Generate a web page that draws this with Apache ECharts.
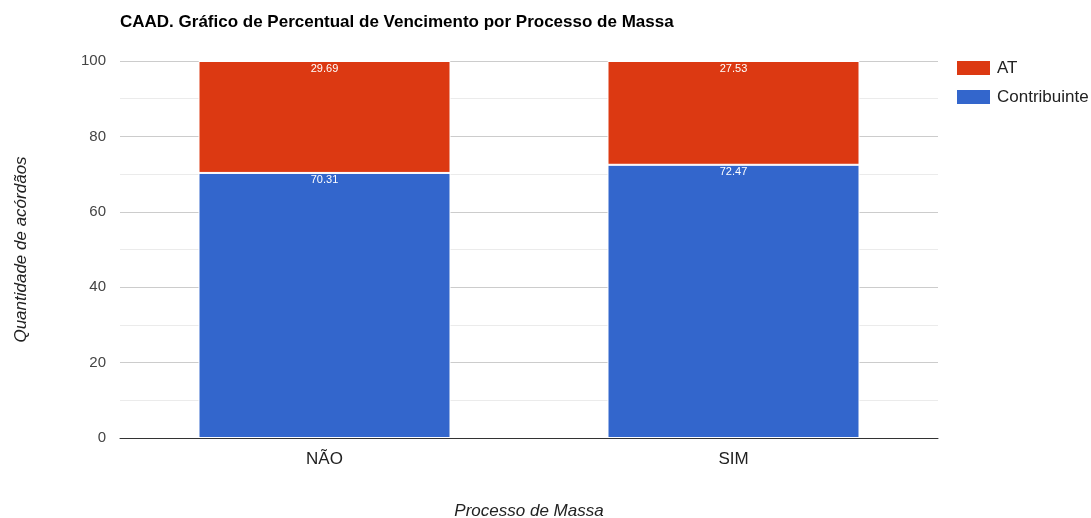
<!DOCTYPE html>
<html lang="pt">
<head>
<meta charset="UTF-8">
<title>CAAD</title>
<script src="https://cdn.jsdelivr.net/npm/echarts@6/dist/echarts.min.js"></script>
<style>
  html, body { margin: 0; padding: 0; background: #fff; }
  #main { width: 1091px; height: 518px; }
</style>
</head>
<body>
<div id="main"></div>
<script>
// dados
var categorias = ['NÃO', 'SIM'];
var contribuinte = [70.31, 72.47];
var at = [29.69, 27.53];

var chart = echarts.init(document.getElementById('main'));
var fonte = 'Liberation Sans, Arial, sans-serif';

var rotulo = {
  show: true,
  position: 'insideTop',
  distance: 2,
  color: '#fff',
  fontSize: 11,
  fontFamily: fonte
};

chart.setOption({
  animation: false,
  textStyle: { fontFamily: fonte },
  title: {
    text: 'CAAD. Gráfico de Percentual de Vencimento por Processo de Massa',
    left: 115,
    top: 9,
    textStyle: { fontSize: 17, fontWeight: 'bold', color: '#000', fontFamily: fonte }
  },
  legend: {
    orient: 'vertical',
    left: 955,
    top: 59,
    padding: 0,
    icon: 'rect',
    itemWidth: 35,
    itemHeight: 16,
    itemGap: 11,
    data: ['AT', 'Contribuinte'],
    textStyle: { fontSize: 17, color: '#222', fontFamily: fonte, padding: [0, 0, 0, 1] }
  },
  grid: { left: 120, right: 153, top: 61, bottom: 80, outerBoundsMode: 'none', containLabel: false },
  xAxis: {
    type: 'category',
    data: categorias,
    name: 'Processo de Massa',
    nameLocation: 'middle',
    nameGap: 65,
    nameTextStyle: { fontStyle: 'italic', fontSize: 17, color: '#222' },
    axisLine: { lineStyle: { color: '#333' } },
    axisTick: { show: false },
    axisLabel: { fontSize: 17, color: '#222', margin: 13 }
  },
  yAxis: {
    type: 'value',
    min: 0,
    max: 100,
    interval: 20,
    name: 'Quantidade de acórdãos',
    nameLocation: 'middle',
    nameGap: 90,
    nameTextStyle: { fontStyle: 'italic', fontSize: 17, color: '#222' },
    axisLine: { show: false },
    axisTick: { show: false },
    axisLabel: { fontSize: 15, color: '#444', margin: 14 },
    splitLine: { lineStyle: { color: '#ccc' } },
    minorTick: { show: false, splitNumber: 2 },
    minorSplitLine: { show: true, lineStyle: { color: '#ebebeb' } }
  },
  series: [
    {
      name: 'Contribuinte',
      type: 'bar',
      stack: 'total',
      barWidth: 252,
      data: contribuinte,
      itemStyle: { color: '#3366CC', borderColor: '#fff', borderWidth: 1 },
      label: rotulo
    },
    {
      name: 'AT',
      type: 'bar',
      stack: 'total',
      barWidth: 252,
      data: at,
      itemStyle: { color: '#DC3912', borderColor: '#fff', borderWidth: 1 },
      label: rotulo
    }
  ]
});
</script>
</body>
</html>
